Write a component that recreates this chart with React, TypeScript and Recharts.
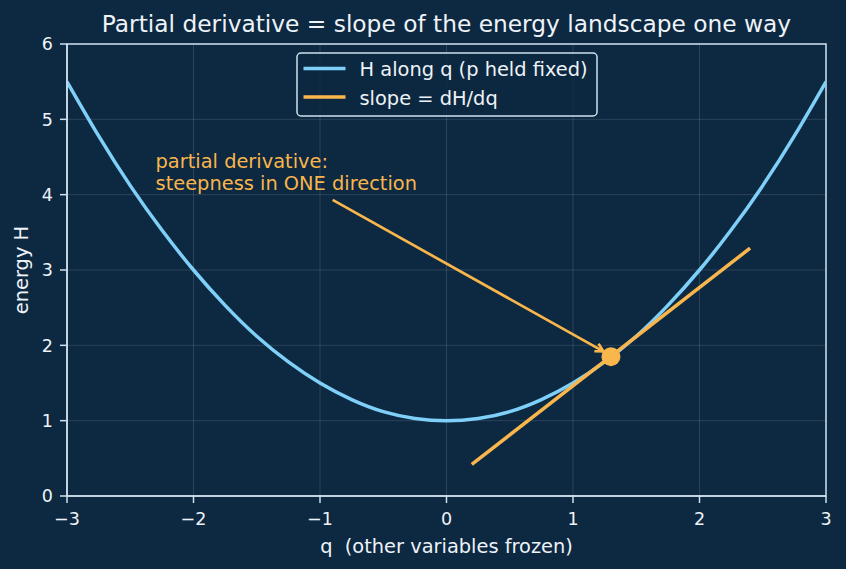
import React from "react";
import {
  ComposedChart,
  Line,
  XAxis,
  YAxis,
  CartesianGrid,
  ReferenceDot,
  ReferenceLine,
  ReferenceArea,
  Label,
} from "recharts";

// ---- data ----
const Q_TICKS = [-3, -2, -1, 0, 1, 2, 3];
const H_TICKS = [0, 1, 2, 3, 4, 5, 6];

const CURVE_Q = [-3, -2.75, -2.5, -2.25, -2, -1.75, -1.5, -1.25, -1, -0.75, -0.5, -0.25, 0, 0.25, 0.5, 0.75, 1, 1.25, 1.5, 1.75, 2, 2.25, 2.5, 2.75, 3];
const CURVE_H = [5.5, 4.78, 4.12, 3.53, 3.0, 2.53, 2.12, 1.78, 1.5, 1.28, 1.12, 1.03, 1.0, 1.03, 1.12, 1.28, 1.5, 1.78, 2.12, 2.53, 3.0, 3.53, 4.12, 4.78, 5.5];

const TANGENT_Q = [0.2, 2.4];
const TANGENT_H = [0.42, 3.29];

const POINT_Q = 1.3;
const POINT_H = 1.85;

const ARROW_FROM = { q: -0.9, H: 3.93 };
const ARROW_TO = { q: 1.24, H: 1.92 };

const NOTE_POS = { q: -2.3, H: 4.0 };
const NOTE_LINES = ["partial derivative:", "steepness in ONE direction"];

const SERIES_NAMES = ["H along q (p held fixed)", "slope = dH/dq"];
const TITLE = "Partial derivative = slope of the energy landscape one way";
const X_LABEL = "q  (other variables frozen)";
const Y_LABEL = "energy H";

// ---- styles ----
const BG = "#0d2841";
const BLUE = "#7fd0f8";
const ORANGE = "#f8b64c";
const SPINE = "#cde0ee";
const TEXT = "#eef3f8";
const FONT = "DejaVu Sans";

const curveData = CURVE_Q.map((q, i) => ({ q, H: CURVE_H[i] }));
const tangentData = TANGENT_Q.map((q, i) => ({ q, H: TANGENT_H[i] }));

const fmt = (v: number) => String(v).replace("-", "\u2212");

const Arrow = (props: any) => {
  const { x1, y1, x2, y2 } = props;
  const ang = Math.atan2(y2 - y1, x2 - x1);
  const len = 9;
  const spread = 0.5;
  const ax = x2 - len * Math.cos(ang - spread);
  const ay = y2 - len * Math.sin(ang - spread);
  const bx = x2 - len * Math.cos(ang + spread);
  const by = y2 - len * Math.sin(ang + spread);
  return (
    <g>
      <line x1={x1} y1={y1} x2={x2} y2={y2} stroke={ORANGE} strokeWidth={2.7} />
      <polyline
        points={`${ax},${ay} ${x2},${y2} ${bx},${by}`}
        fill="none"
        stroke={ORANGE}
        strokeWidth={2.7}
      />
    </g>
  );
};

const Note = (props: any) => {
  const { cx, cy } = props;
  const lh = 22;
  const base = cy - 4.5;
  return (
    <g>
      {NOTE_LINES.map((t, i) => (
        <text
          key={i}
          x={cx}
          y={base - (NOTE_LINES.length - 1 - i) * lh}
          fill={ORANGE}
          fontFamily={FONT}
          fontSize={19.4}
        >
          {t}
        </text>
      ))}
    </g>
  );
};

const XLabel = (props: any) => {
  const vb = props.viewBox;
  return (
    <text
      x={vb.x + vb.width / 2}
      y={553}
      textAnchor="middle"
      fill={TEXT}
      fontFamily={FONT}
      fontSize={19.4}
      style={{ whiteSpace: "pre" }}
    >
      {X_LABEL}
    </text>
  );
};

const YLabel = (props: any) => {
  const vb = props.viewBox;
  const x = 28;
  const y = vb.y + vb.height / 2;
  return (
    <text
      x={x}
      y={y}
      textAnchor="middle"
      transform={`rotate(-90, ${x}, ${y})`}
      fill={TEXT}
      fontFamily={FONT}
      fontSize={19.4}
    >
      {Y_LABEL}
    </text>
  );
};

export default function App() {
  const tickStyle = { fill: TEXT, fontFamily: FONT, fontSize: 17.5 };
  return (
    <div
      style={{
        position: "absolute",
        left: 0,
        top: 0,
        width: 846,
        height: 569,
        background: BG,
      }}
    >
      <svg
        width={846}
        height={40}
        style={{ position: "absolute", left: 0, top: 0 }}
      >
        <text
          x={446.5}
          y={32}
          textAnchor="middle"
          fill={TEXT}
          fontFamily={FONT}
          fontSize={23.3}
        >
          {TITLE}
        </text>
      </svg>
      <ComposedChart
        width={846}
        height={569}
        margin={{ top: 44, right: 20, bottom: 0, left: 0 }}
        style={{ position: "absolute", left: 0, top: 0 }}
      >
        <CartesianGrid stroke="#ffffff" strokeOpacity={0.13} strokeWidth={1} />
        <XAxis
          type="number"
          dataKey="q"
          domain={[-3, 3]}
          ticks={Q_TICKS}
          allowDataOverflow
          height={73}
          tick={tickStyle}
          tickFormatter={fmt}
          tickSize={7}
          tickMargin={10}
          axisLine={{ stroke: SPINE, strokeWidth: 1.5 }}
          tickLine={{ stroke: SPINE, strokeWidth: 1.5 }}
        >
          <Label content={<XLabel />} />
        </XAxis>
        <YAxis
          type="number"
          dataKey="H"
          domain={[0, 6]}
          ticks={H_TICKS}
          allowDataOverflow
          width={67}
          tick={tickStyle}
          tickFormatter={fmt}
          tickSize={7}
          tickMargin={7}
          axisLine={{ stroke: SPINE, strokeWidth: 1.5 }}
          tickLine={{ stroke: SPINE, strokeWidth: 1.5 }}
        >
          <Label content={<YLabel />} />
        </YAxis>
        <Line
          data={curveData}
          dataKey="H"
          name={SERIES_NAMES[0]}
          type="natural"
          stroke={BLUE}
          strokeWidth={3.5}
          dot={false}
          activeDot={false}
          isAnimationActive={false}
        />
        <Line
          data={tangentData}
          dataKey="H"
          name={SERIES_NAMES[1]}
          type="linear"
          stroke={ORANGE}
          strokeWidth={3.5}
          dot={false}
          activeDot={false}
          isAnimationActive={false}
        />
        <ReferenceDot
          x={POINT_Q}
          y={POINT_H}
          r={9.5}
          fill={ORANGE}
          stroke="none"
        />
        <ReferenceLine
          segment={[
            { x: ARROW_FROM.q, y: ARROW_FROM.H },
            { x: ARROW_TO.q, y: ARROW_TO.H },
          ]}
          shape={<Arrow />}
        />
        <ReferenceDot
          x={NOTE_POS.q}
          y={NOTE_POS.H}
          r={1}
          shape={<Note />}
        />
        <ReferenceArea
          x1={-3}
          x2={3}
          y1={0}
          y2={6}
          fill="none"
          fillOpacity={0}
          stroke={SPINE}
          strokeWidth={1.5}
        />
      </ComposedChart>
      <svg
        width={302}
        height={65}
        style={{ position: "absolute", left: 295.5, top: 52 }}
      >
        <rect
          x={1}
          y={1}
          width={300}
          height={63}
          rx={4}
          ry={4}
          fill={BG}
          fillOpacity={0.85}
          stroke={SPINE}
          strokeWidth={1.5}
        />
        <line x1={7.5} y1={16.5} x2={49.5} y2={16.5} stroke={BLUE} strokeWidth={3.5} />
        <line x1={7.5} y1={45} x2={49.5} y2={45} stroke={ORANGE} strokeWidth={3.5} />
        <text x={63.5} y={24} fill={TEXT} fontFamily={FONT} fontSize={19.4}>
          {SERIES_NAMES[0]}
        </text>
        <text x={63.5} y={53} fill={TEXT} fontFamily={FONT} fontSize={19.4}>
          {SERIES_NAMES[1]}
        </text>
      </svg>
    </div>
  );
}
